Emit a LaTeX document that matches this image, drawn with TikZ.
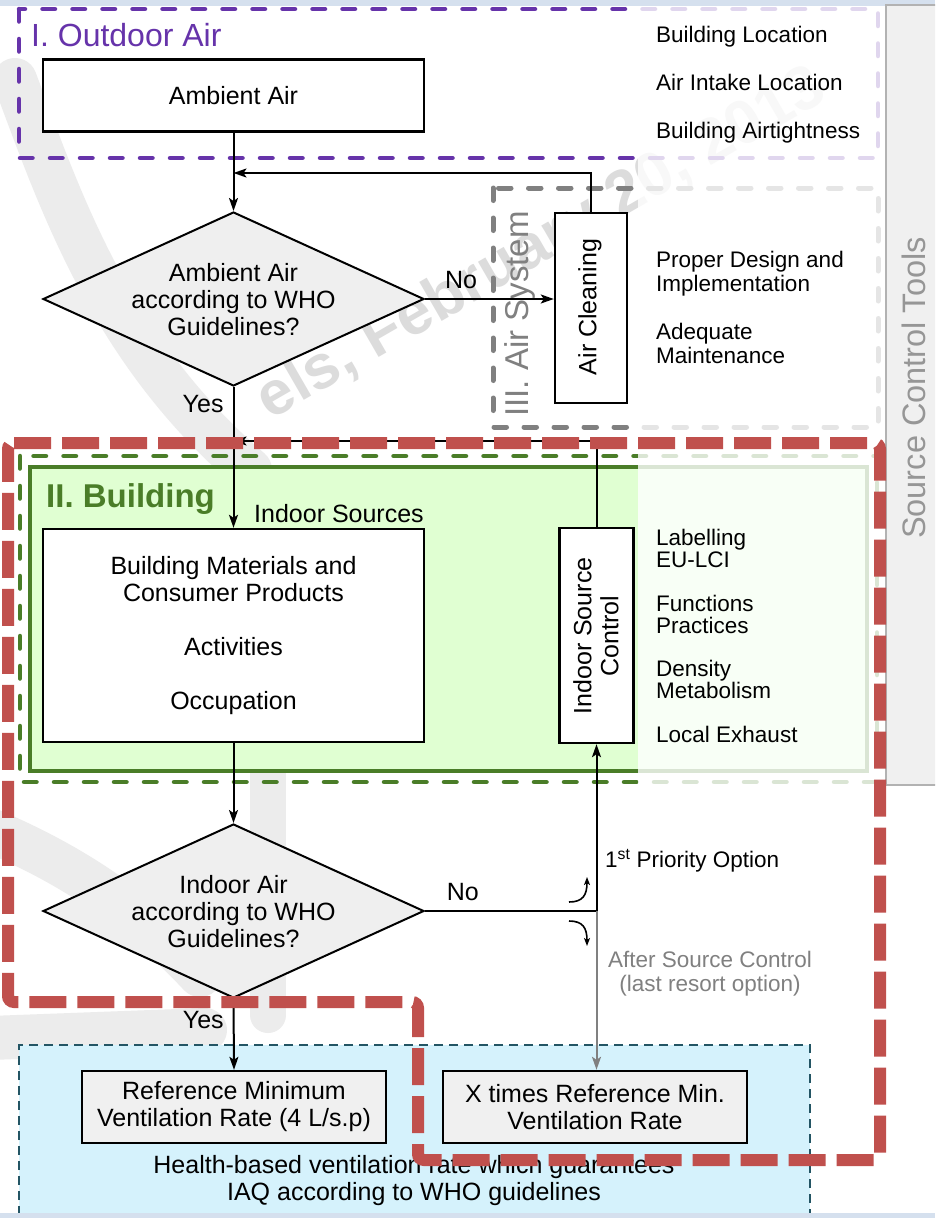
\documentclass[tikz,border=0pt]{standalone}
\usepackage{fontspec}
\setmainfont{Liberation Sans}
\usetikzlibrary{shapes.geometric,arrows.meta}
\definecolor{purp}{RGB}{102,51,170}
\definecolor{redd}{RGB}{192,80,77}
\definecolor{grn}{RGB}{74,125,40}
\definecolor{grnfill}{RGB}{224,255,210}
\definecolor{bluefill}{RGB}{213,242,252}
\definecolor{bluedash}{RGB}{35,85,100}
\definecolor{band}{RGB}{213,224,238}
\definecolor{panel}{RGB}{240,240,240}
\definecolor{boxgray}{RGB}{239,239,239}
\definecolor{dgray}{RGB}{128,128,128}
\definecolor{lgray}{RGB}{150,150,150}
\definecolor{wmtext}{RGB}{220,220,220}
\definecolor{wmband}{RGB}{236,236,236}
\begin{document}
\begin{tikzpicture}[x=1pt,y=-1pt,
  box/.style={draw=black, line width=2.4pt, fill=white, inner sep=0pt},
  decbox/.style={shape=diamond, draw=black, line width=2pt, fill=boxgray, inner sep=0pt, minimum width=381pt, minimum height=174pt},
  maintxt/.style={font=\fontsize{25}{27}\selectfont, align=center, inner sep=0pt},
  sidetxt/.style={font=\fontsize{22.5}{24}\selectfont, anchor=base west, inner sep=0pt},
  arr/.style={line width=2pt, -{Stealth[length=13pt,width=9pt,inset=3pt]}},
  smallarr/.style={line width=1.6pt, -{Stealth[length=8pt,width=6pt,inset=2pt]}},
  zonedash/.style={line width=4.5pt, line cap=round, dash pattern=on 12.5pt off 17.5pt},
  header/.style={font=\fontsize{32}{34}\selectfont, inner sep=0pt}
]
\path[use as bounding box] (0,0) rectangle (935,1218);
\clip (0,0) rectangle (935,1218);
\fill[white] (0,0) rectangle (935,1218);

% watermark bands
\draw[wmband, line width=44pt, line cap=round] (15,80) .. controls (60,200) and (110,350) .. (250,470);
\draw[wmband, line width=44pt, line cap=round] (-10,830) .. controls (60,860) and (130,900) .. (200,975);
\draw[wmband, line width=36pt, line cap=round] (268,775) -- (268,1015);
\draw[wmband, line width=44pt, line cap=round] (-10,1038) -- (205,1030);
\node[text=wmtext, font=\fontsize{62}{62}\selectfont\bfseries, rotate=30] (wm) at (542,245) {els, February 20, 2013};

% zones
\fill[bluefill] (19,1045) rectangle (810,1230);
\draw[bluedash, line width=2pt, dash pattern=on 9pt off 6pt] (19,1230) -- (19,1045) -- (810,1045) -- (810,1230);
\draw[purp, zonedash] (19,9) rectangle (878,158);
\draw[dgray, zonedash, line width=5pt] (493,188) rectangle (878,427);
\draw[grn, zonedash] (20,456) rectangle (877,782);
\draw[grn, line width=4.5pt, fill=grnfill] (30,467) rectangle (867,771);
% fading overlay on the tools column
\fill[white, opacity=0.8] (638,6) rectangle (885,790);

% bands at top and bottom
\fill[band] (0,0) rectangle (935,6);
\fill[band] (0,1213) rectangle (935,1218);

% source control panel
\draw[fill=panel, draw=gray!60, line width=1.5pt] (886,5) rectangle (945,785);
\node[text=lgray, font=\fontsize{32.5}{34}\selectfont, rotate=90, inner sep=0pt] (sct) at (914,388) {Source Control Tools};

% headers
\node[header, text=purp, anchor=base west] (h1) at (31,46) {I. Outdoor Air};
\node[header, text=grn, font=\fontsize{33}{34}\selectfont\bfseries, anchor=base west] (h2) at (46,507) {II. Building};
\node[header, text=dgray, font=\fontsize{33}{34}\selectfont, rotate=90] (h3) at (520,314) {III. Air System};

% main nodes
\node[box, minimum width=381pt, minimum height=72pt, maintxt] (amb) at (233.5,95.5) {Ambient Air};
\node[decbox] (d1) at (233.5,299) {};
\node[maintxt] (d1t) at (233.5,300) {Ambient Air\\according to WHO\\Guidelines?};
\node[box, minimum width=72pt, minimum height=190pt] (ac) at (591,308) {};
\node[maintxt, rotate=90] (act) at (590,307) {Air Cleaning};
\node[box, minimum width=381pt, minimum height=213pt, maintxt] (bm) at (233.5,635.5)
  {Building Materials and\\Consumer Products\\[27pt]Activities\\[27pt]Occupation};
\node[box, minimum width=74pt, minimum height=215pt] (isc) at (596.5,635.5) {};
\node[maintxt, rotate=90] (isct) at (596,636) {Indoor Source\\Control};
\node[decbox] (d2) at (233.5,911) {};
\node[maintxt] (d2t) at (233.5,912) {Indoor Air\\according to WHO\\Guidelines?};
\node[box, fill=panel, minimum width=304pt, minimum height=72pt, maintxt] (ref) at (234,1107)
  {Reference Minimum\\Ventilation Rate (4 L/s.p)};
\node[box, fill=panel, minimum width=304pt, minimum height=72pt, maintxt] (xt) at (595,1107)
  {X times Reference Min.\\Ventilation Rate};
\node[maintxt] (hb) at (414,1181) {Health-based ventilation rate which guarantees\\IAQ according to WHO guidelines};

% side texts
\node[sidetxt] (o1) at (656,42) {Building Location};
\node[sidetxt] (o2) at (656,90) {Air Intake Location};
\node[sidetxt] (o3) at (656,138) {Building Airtightness};
\node[sidetxt] (a1) at (656,267) {Proper Design and};
\node[sidetxt] (a2) at (656,291) {Implementation};
\node[sidetxt] (a3) at (656,339) {Adequate};
\node[sidetxt] (a4) at (656,363) {Maintenance};
\node[sidetxt] (b1) at (656,545) {Labelling};
\node[sidetxt] (b2) at (656,567) {EU-LCI};
\node[sidetxt] (b3) at (656,611) {Functions};
\node[sidetxt] (b4) at (656,633) {Practices};
\node[sidetxt] (b5) at (656,676) {Density};
\node[sidetxt] (b6) at (656,698) {Metabolism};
\node[sidetxt] (b7) at (656,742) {Local Exhaust};
\node[maintxt, anchor=base west] (isrc) at (254,522) {Indoor Sources};
\node[sidetxt] (prio) at (605,867) {1\textsuperscript{st} Priority Option};
\node[sidetxt, anchor=center, align=center, text=dgray] (after) at (710,974) {After Source Control\\(last resort option)};

% connectors
\coordinate (j1) at (233.5,173);
\coordinate (j2) at (233.5,441);
\coordinate (jn) at (596.5,911);
\draw[arr] (amb.south) -- (d1.north);
\draw[arr] (d1.east) -- node[maintxt, above=9pt, pos=0.28] (no1) {No} (d1.east -| ac.west);
\draw[arr] (ac.north) |- (j1);
\draw[arr] (d1.south) -- node[maintxt, pos=0.12, left=9pt] (yes1) {Yes} (bm.north);
\draw[arr] (isc.north) |- (j2);
\draw[arr] (bm.south) -- (d2.north);
\draw[line width=2pt] (d2.east) -- node[maintxt, above=9pt, pos=0.22] (no2) {No} (jn);
\draw[arr] (jn) -- (isc.south);
\draw[arr, dgray] (jn) -- (jn |- xt.north);
\draw[arr] (d2.south) -- node[maintxt, pos=0.29, left=9pt] (yes2) {Yes} (ref.north);
\draw[smallarr] (569,902) .. controls (583,902) and (587,895) .. (587,877);
\draw[smallarr] (569,921) .. controls (583,921) and (587,928) .. (587,946);

% red dashed zone
\draw[redd, line width=12pt, dash pattern=on 37pt off 11pt, rounded corners=6pt]
  (8,443) -- (880,443) -- (880,1160) -- (418,1160) -- (418,1002) -- (8,1002) -- cycle;
\end{tikzpicture}
\end{document}
